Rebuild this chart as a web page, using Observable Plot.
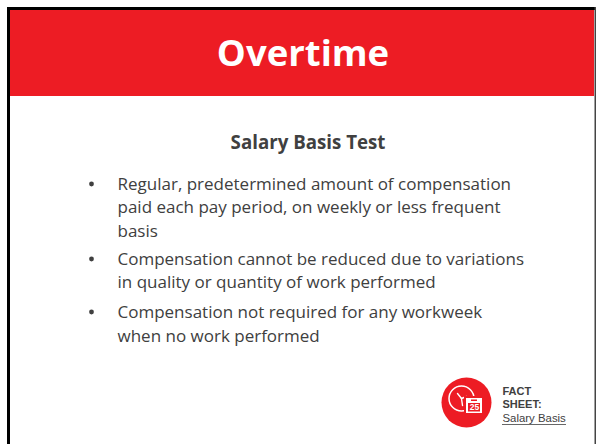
<!DOCTYPE html>
<html>
<head>
<meta charset="utf-8">
<script src="https://cdn.jsdelivr.net/npm/d3@7"></script>
<script src="https://cdn.jsdelivr.net/npm/@observablehq/plot@0.6"></script>
<style>html,body{margin:0;padding:0;background:#fff}svg{display:block}</style>
</head>
<body>
<div id="chart"></div>
<script>
const titleText = ["Overtime"];
const headingText = ["Salary Basis Test"];
const bodyLines = [
  "Regular, predetermined amount of compensation",
  "paid each pay period, on weekly or less frequent",
  "basis",
  "Compensation cannot be reduced due to variations",
  "in quality or quantity of work performed",
  "Compensation not required for any workweek",
  "when no work performed"
];
const bulletLines = [0, 3, 5];
const factLines = ["FACT", "SHEET:"];
const factLink = ["Salary Basis"];
const calendarDay = ["25"];

const W = 596, H = 444;
const RED = "#ed1c24", INK = "#404040";
const font = "'Open Sans', sans-serif";
const arial = "'Liberation Sans', sans-serif";
const lineY = [184.5, 207.5, 231.5, 259.5, 282.5, 312.5, 336.5];
const clockCx = 461, clockCy = 398;
const cal = {x1: 466, x2: 482, y1: 398, y2: 413};

const chart = Plot.plot({
  width: W, height: H, margin: 0,
  style: {background: "#fff", overflow: "hidden"},
  x: {domain: [0, W], range: [0, W], axis: null},
  y: {domain: [0, H], range: [0, H], axis: null},
  marks: [
    // frame and banner
    Plot.rect([0], {x1: 10, x2: 594, y1: 10, y2: 96, fill: RED}),
    Plot.rect([0], {x1: 7, x2: 596, y1: 7, y2: 10, fill: "#000"}),
    Plot.rect([0], {x1: 7, x2: 10, y1: 7, y2: H, fill: "#000"}),
    Plot.rect([0], {x1: 594.5, x2: 596, y1: 7, y2: H, fill: "#444"}),
    Plot.text(titleText, {x: 302.5, y: 54, text: d => d, fill: "#fff", fontFamily: font, fontWeight: 700, fontSize: 36.5, textAnchor: "middle", lineAnchor: "middle"}),
    Plot.text(headingText, {x: 307.5, y: 143, text: d => d, fill: INK, fontFamily: font, fontWeight: 700, fontSize: 18.7, textAnchor: "middle", lineAnchor: "middle"}),
    // body copy
    Plot.text(bodyLines, {x: 117, y: (d, i) => lineY[i], text: d => d, fill: INK, fontFamily: font, fontSize: 17, textAnchor: "start", lineAnchor: "middle"}),
    Plot.dot(bulletLines, {x: 91, y: i => lineY[i] - 1, r: 2.4, fill: INK}),
    // fact-sheet icon
    Plot.dot([0], {x: 466, y: 402, r: 25, fill: RED}),
    Plot.dot([0], {x: clockCx, y: clockCy, r: 12.5, stroke: "#fff", strokeWidth: 1.5, fill: "none"}),
    Plot.line([[clockCx, clockCy], [clockCx - 4, clockCy - 5]], {x: d => d[0], y: d => d[1], stroke: "#fff", strokeWidth: 1.4}),
    Plot.line([[clockCx, clockCy], [clockCx + 5, clockCy - 2]], {x: d => d[0], y: d => d[1], stroke: "#fff", strokeWidth: 1.4}),
    Plot.line([[clockCx, clockCy], [clockCx + 1, clockCy + 7]], {x: d => d[0], y: d => d[1], stroke: "#fff", strokeWidth: 1.4}),
    Plot.rect([0], {x1: cal.x1 - 2, x2: cal.x2 + 2, y1: cal.y1 - 2, y2: cal.y2 + 2, fill: RED}),
    Plot.rect([0], {x1: cal.x1, x2: cal.x2, y1: cal.y1, y2: cal.y2, fill: "#fff"}),
    Plot.rect([0], {x1: cal.x1 + 2, x2: cal.x2 - 2, y1: cal.y1 + 5, y2: cal.y2 - 1.5, fill: RED}),
    Plot.rect([0], {x1: cal.x1 + 5, x2: cal.x2 - 5, y1: cal.y1 + 1.5, y2: cal.y1 + 3, fill: RED}),
    Plot.text(calendarDay, {x: (cal.x1 + cal.x2) / 2, y: cal.y1 + 9.2, text: d => d, fill: "#fff", fontFamily: arial, fontWeight: 700, fontSize: 8.5, textAnchor: "middle", lineAnchor: "middle"}),
    // fact-sheet label
    Plot.text(factLines, {x: 502, y: (d, i) => 391 + i * 13, text: d => d, fill: INK, fontFamily: arial, fontWeight: 700, fontSize: 11, textAnchor: "start", lineAnchor: "middle"}),
    Plot.text(factLink, {x: 502, y: 418, text: d => d, fill: INK, fontFamily: arial, fontSize: 11.4, textAnchor: "start", lineAnchor: "middle"}),
    Plot.ruleY([424], {x1: 502, x2: 566, stroke: INK, strokeWidth: 0.8}),
  ]
});
document.getElementById("chart").append(chart);
</script>
</body>
</html>
